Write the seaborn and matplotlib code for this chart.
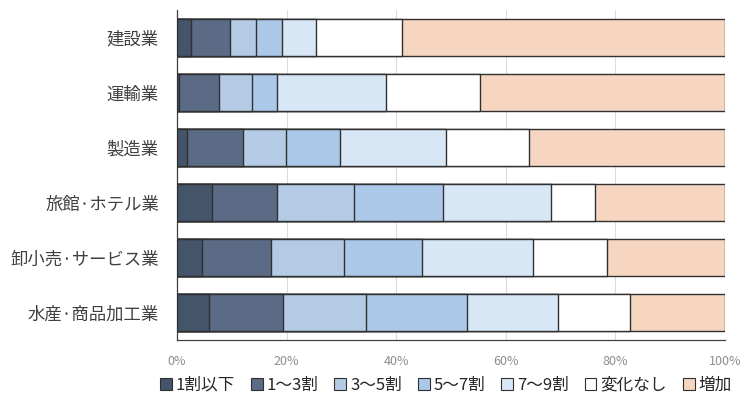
import numpy as np
import pandas as pd
import matplotlib
matplotlib.use("Agg")
import matplotlib.pyplot as plt
from matplotlib.patches import Patch
import seaborn as sns

categories = ["建設業", "運輸業", "製造業", "旅館·ホテル業", "卸小売·サービス業", "水産·商品加工業"]
series_names = ["1割以下", "1～3割", "3～5割", "5～7割", "7～9割", "変化なし", "増加"]
s_le1 = [2.5, 0.4, 1.9, 6.3, 4.5, 5.9]
s_1to3 = [7.1, 7.3, 10.2, 11.9, 12.7, 13.5]
s_3to5 = [4.9, 6.0, 7.7, 14.1, 13.3, 15.0]
s_5to7 = [4.7, 4.6, 10.0, 16.2, 14.2, 18.6]
s_7to9 = [6.1, 19.9, 19.3, 19.8, 20.2, 16.6]
s_none = [15.7, 17.1, 15.1, 8.0, 13.6, 13.1]
s_up = [59.0, 44.7, 35.8, 23.7, 21.5, 17.3]
xticks = [0, 20, 40, 60, 80, 100]
xtick_labels = ["0%", "20%", "40%", "60%", "80%", "100%"]

colors = ["#44546a", "#5b6b86", "#b3cbe5", "#abc8e8", "#d7e7f5", "#ffffff", "#f6d6c1"]

sns.set_theme(style="white")
plt.rcParams["font.family"] = ["Noto Sans CJK JP", "DejaVu Sans"]

series = [s_le1, s_1to3, s_3to5, s_5to7, s_7to9, s_none, s_up]
vals = np.array(series)
cum = np.cumsum(vals, axis=0)
cum = cum / cum[-1] * 100

fig = plt.figure(figsize=(7.44, 4.03), dpi=100)
ax = fig.add_axes([177 / 744, 1 - 340 / 403, (725 - 177) / 744, (340 - 10) / 403])

edge = "#303030"
for i in range(len(series) - 1, -1, -1):
    df = pd.DataFrame({"cat": categories, "val": cum[i]})
    sns.barplot(data=df, x="val", y="cat", order=categories, orient="h",
                color=colors[i], saturation=1, edgecolor=edge, linewidth=1.0,
                width=0.67, errorbar=None, ax=ax, zorder=3)

ax.set_xlim(0, 100)
ax.set_ylim(len(categories) - 0.5, -0.5)
ax.set_xticks(xticks)
ax.set_xticklabels(xtick_labels, color="#8c8c8c", fontsize=9)
ax.set_xlabel("")
ax.set_ylabel("")
ax.tick_params(axis="y", labelsize=12.5, colors="#404040", length=0, pad=13)
ax.tick_params(axis="x", direction="in", length=5, color="#404040", pad=11, width=0.8)
for lbl in ax.get_yticklabels():
    lbl.set_color("#404040")
ax.grid(axis="x", color="#dcdcdc", linewidth=0.8, zorder=0)
ax.set_axisbelow(True)
for s in ["top", "right"]:
    ax.spines[s].set_visible(False)
ax.spines["left"].set_color("#404040")
ax.spines["left"].set_linewidth(0.9)
ax.spines["bottom"].set_color("#404040")
ax.spines["bottom"].set_linewidth(0.9)

handles = [Patch(facecolor=c, edgecolor=edge, linewidth=0.8, label=n) for c, n in zip(colors, series_names)]
fig.legend(handles=handles, loc="center", bbox_to_anchor=(446 / 744, 1 - 385 / 403), ncol=7,
           frameon=False, fontsize=12, handlelength=0.7, handleheight=0.7, handletextpad=0.25,
           columnspacing=0.95, labelcolor="#262626")

fig.savefig("out.png", dpi=100)
